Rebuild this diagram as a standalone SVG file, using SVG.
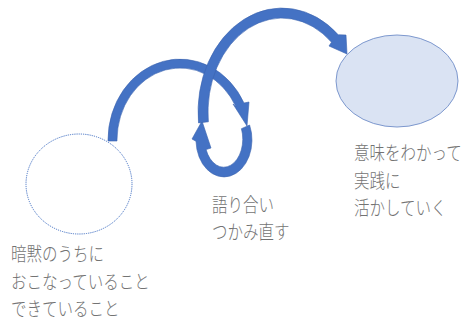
<svg xmlns="http://www.w3.org/2000/svg" width="468" height="322" viewBox="0 0 468 322">
<style>
.lbl{font-family:"Noto Sans CJK JP","Noto Sans",sans-serif;font-size:19px;font-weight:300;fill:#737373}
.arr{fill:#4472C4;stroke:#3A63AE;stroke-width:0.6;stroke-linejoin:miter}
</style>
<rect width="468" height="322" fill="#ffffff"/>
<g id="node-tacit">
<ellipse cx="79" cy="184" rx="53" ry="50" fill="#ffffff" stroke="#4472C4" stroke-width="1" stroke-dasharray="1.2 1"/>
<text class="lbl" transform="translate(11,261) scale(0.816,1)">暗黙のうちに</text>
<text class="lbl" transform="translate(11,288.5) scale(0.816,1)">おこなっていること</text>
<text class="lbl" transform="translate(11,316) scale(0.816,1)">できていること</text>
</g>
<g id="node-dialog">
<text class="lbl" transform="translate(212,212) scale(0.816,1)">語り合い</text>
<text class="lbl" transform="translate(212,239) scale(0.816,1)">つかみ直す</text>
</g>
<g id="node-meaning">
<ellipse cx="397" cy="81" rx="61" ry="46" fill="#DAE3F3" stroke="#7D98CE" stroke-width="1"/>
<text class="lbl" transform="translate(354,160) scale(0.816,1)">意味をわかって</text>
<text class="lbl" transform="translate(354,187.5) scale(0.816,1)">実践に</text>
<text class="lbl" transform="translate(354,215) scale(0.816,1)">活かしていく</text>
</g>
<g id="connectors">
<path id="arrow-a" class="arr" d="M108,141 L108,140 A72,81 0 0 1 244,103 L249,102 L247,126 L233,104 L236,107 A63,72 0 0 0 117,140 L117,141 Z"/>
<path id="arrow-b" class="arr" d="M249.6,125 A28,37 0 1 1 196,141.3 L192,139 L202,121 L211,148 L206.1,149.6 A19,28 0 1 0 241.4,128.7 Z"/>
<path id="arrow-c" class="arr" d="M198.5,122.9 A84,104 0 0 1 338.2,34.7 L346,35 L347,54 L329,46 L331.5,42.2 A74,94 0 0 0 208.4,121.8 Z"/>
</g>
</svg>
